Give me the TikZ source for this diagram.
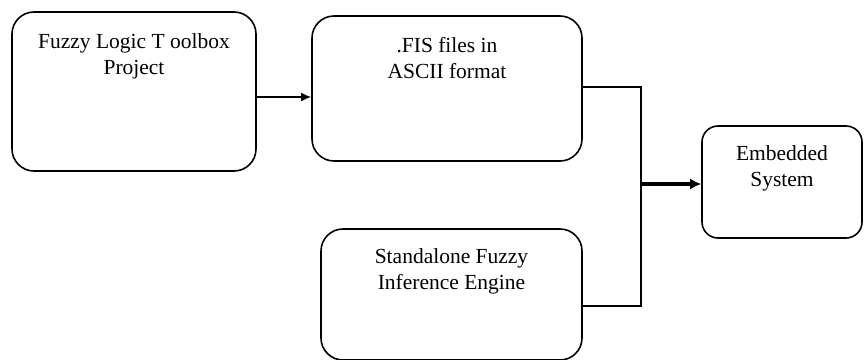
\documentclass[tikz,border=0pt]{standalone}
\usepackage{fontspec}
\setmainfont{Liberation Serif}
\usetikzlibrary{positioning,arrows.meta}

\begin{document}
\begin{tikzpicture}[x=1pt,y=-1pt,>={Latex[length=10pt,width=9pt]},font=\fontsize{21.5}{26}\selectfont]
  \tikzstyle{block}=[draw=black, line width=1.6pt, rounded corners=22pt, fill=white, inner sep=0pt]
  \tikzstyle{smallblock}=[block, rounded corners=16pt]
  \tikzstyle{title}=[align=center, anchor=north, inner sep=0pt]
  \tikzstyle{arrow}=[->, line width=1.6pt]
  \tikzstyle{wire}=[line width=1.6pt]
  \tikzstyle{bigarrow}=[-{Latex[length=11pt,width=11pt]}, line width=3.5pt]

  \path[use as bounding box] (0,0) rectangle (864,359);

  % boxes
  \node[block, minimum width=244pt, minimum height=159pt] (toolbox) at (134,91.5) {};
  \node[title] at (134,33) {Fuzzy Logic T oolbox\\Project};

  \node[block, minimum width=270pt, minimum height=145pt] (fis) at (447,88.5) {};
  \node[title] at (447,37) {.FIS files in\\ASCII format};

  \node[block, minimum width=261pt, minimum height=131pt] (engine) at (451.5,294.5) {};
  \node[title] at (451.5,248) {Standalone Fuzzy\\Inference Engine};

  \node[smallblock, minimum width=160pt, minimum height=112pt] (embedded) at (782,182) {};
  \node[title] at (782,145) {Embedded\\System};

  % connectors
  \coordinate (join) at (641,184);
  \draw[arrow] (toolbox.east |- 0,97) -- (fis.west |- 0,97);
  \draw[wire] (fis.east |- 0,87) -| (join);
  \draw[wire] (engine.east |- 0,306) -| (join);
  \draw[bigarrow] (join) -- (embedded.west |- join);
\end{tikzpicture}
\end{document}
